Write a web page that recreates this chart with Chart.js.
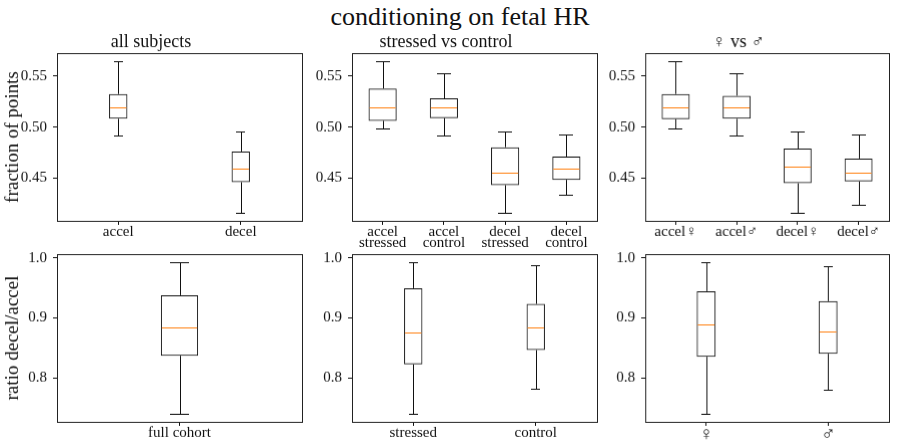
<!DOCTYPE html>
<html><head><meta charset="utf-8">
<script src="https://cdn.jsdelivr.net/npm/chart.js@4/dist/chart.umd.min.js"></script>
<style>
html,body{margin:0;padding:0;background:#fff;width:897px;height:447px;overflow:hidden;position:relative}
canvas{position:absolute}
#sup{position:absolute;left:460px;top:3px;transform:translateX(-50%);font-family:"Liberation Serif","DejaVu Serif",serif;font-size:26px;line-height:28px;color:#111;white-space:nowrap}
</style></head><body>
<div id="sup">conditioning on fetal HR</div>
<canvas id="c1"></canvas><canvas id="c2"></canvas><canvas id="c3"></canvas>
<canvas id="c4"></canvas><canvas id="c5"></canvas><canvas id="c6"></canvas>
<script>
// ---------- data ----------
const subjCats = ['accel', 'decel'];
const subjLo  = [0.4921, 0.4154];
const subjQ1  = [0.5082, 0.4459];
const subjMed = [0.5193, 0.4593];
const subjQ3  = [0.5325, 0.4761];
const subjHi  = [0.5652, 0.4954];

const stressCats = [['accel', 'stressed'], ['accel', 'control'], ['decel', 'stressed'], ['decel', 'control']];
const stressLo  = [0.4984, 0.4921, 0.4154, 0.4331];
const stressQ1  = [0.5062, 0.5089, 0.4430, 0.4482];
const stressMed = [0.5197, 0.5193, 0.4554, 0.4597];
const stressQ3  = [0.5380, 0.5282, 0.4803, 0.4711];
const stressHi  = [0.5652, 0.5528, 0.4954, 0.4925];

const sexCats = ['accel♀', 'accel♂', 'decel♀', 'decel♂'];
const sexLo  = [0.4987, 0.4921, 0.4154, 0.4233];
const sexQ1  = [0.5079, 0.5082, 0.4449, 0.4466];
const sexMed = [0.5197, 0.5197, 0.4607, 0.4554];
const sexQ3  = [0.5325, 0.5308, 0.4790, 0.4692];
const sexHi  = [0.5652, 0.5528, 0.4954, 0.4925];

const ratioCats = ['full cohort'];
const ratioLo  = [0.7396];
const ratioQ1  = [0.8370];
const ratioMed = [0.8838];
const ratioQ3  = [0.9379];
const ratioHi  = [0.9936];

const ratioStressCats = ['stressed', 'control'];
const ratioStressLo  = [0.7396, 0.7825];
const ratioStressQ1  = [0.8226, 0.8465];
const ratioStressMed = [0.8766, 0.8844];
const ratioStressQ3  = [0.9496, 0.9234];
const ratioStressHi  = [0.9936, 0.9880];

const ratioSexCats = ['♀', '♂'];
const ratioSexLo  = [0.7396, 0.7802];
const ratioSexQ1  = [0.8354, 0.8404];
const ratioSexMed = [0.8894, 0.8772];
const ratioSexQ3  = [0.9446, 0.9279];
const ratioSexHi  = [0.9936, 0.9869];

const fracTicks  = [0.45, 0.50, 0.55];
const ratioTicks = [0.8, 0.9, 1.0];

const panelTitles = ['all subjects', 'stressed vs control', '♀ vs ♂'];
const yTitles = ['fraction of points', 'ratio decel/accel'];

// ---------- helpers ----------
const FONT = '"Liberation Serif", "DejaVu Serif", serif';
const INK = '#111';
const MED = '#ff7f0e';

function range(los, his) {
  const lo = Math.min(...los), hi = Math.max(...his);
  const m = (hi - lo) * 0.05;
  return [lo - m, hi + m];
}
const fracRange = range([...subjLo, ...stressLo, ...sexLo], [...subjHi, ...stressHi, ...sexHi]);
const ratioRange = range([...ratioLo, ...ratioStressLo, ...ratioSexLo], [...ratioHi, ...ratioStressHi, ...ratioSexHi]);

const snap = v => Math.round(v) + 0.5;

const boxPlugin = {
  id: 'boxes',
  afterDatasetsDraw(chart) {
    const o = chart.options.plugins.boxes;
    const { ctx, chartArea: a } = chart;
    const x = chart.scales.x, y = chart.scales.y;
    const unit = (x.right - x.left) / o.lo.length;
    const half = unit * o.w / 2;
    const cap = half / 2;
    ctx.save();
    ctx.lineWidth = 1;
    o.lo.forEach((lo, i) => {
      const cxr = x.getPixelForValue(i);
      const cx = snap(cxr);
      const pLo = snap(y.getPixelForValue(lo)), pHi = snap(y.getPixelForValue(o.hi[i]));
      const pQ1 = y.getPixelForValue(o.q1[i]), pQ3 = y.getPixelForValue(o.q3[i]);
      const pMed = snap(y.getPixelForValue(o.med[i]));
      ctx.strokeStyle = INK;
      ctx.beginPath();
      ctx.moveTo(cx, pQ3); ctx.lineTo(cx, pHi);
      ctx.moveTo(cx, pQ1); ctx.lineTo(cx, pLo);
      ctx.moveTo(Math.round(cxr - cap), pHi); ctx.lineTo(Math.round(cxr + cap), pHi);
      ctx.moveTo(Math.round(cxr - cap), pLo); ctx.lineTo(Math.round(cxr + cap), pLo);
      ctx.stroke();
      ctx.strokeStyle = MED;
      ctx.beginPath();
      ctx.moveTo(cxr - half + 1, pMed); ctx.lineTo(cxr + half - 1, pMed);
      ctx.stroke();
    });
    ctx.strokeStyle = '#222';
    const l = snap(a.left), t = snap(a.top), r = snap(a.right), b = snap(a.bottom);
    ctx.strokeRect(l, t, r - l, b - t);
    ctx.restore();
  }
};

const YW = 57, XH = 34, TOPH = 22, RP = 4;

function makePanel(id, L, T, R, B, cats, lo, q1, med, q3, hi, ticks, yr, dec, cfg) {
  const cv = document.getElementById(id);
  const w = (R - L) + YW + RP, h = (B - T) + TOPH + XH;
  cv.width = w; cv.height = h;
  cv.style.width = w + 'px'; cv.style.height = h + 'px';
  cv.style.left = (L - YW) + 'px'; cv.style.top = (T - TOPH) + 'px';
  const axisGrid = { display: true, drawOnChartArea: false, drawTicks: true, tickLength: 4, tickColor: INK, tickWidth: 1, offset: false };
  new Chart(cv, {
    type: 'bar',
    data: {
      labels: cats,
      datasets: [{
        data: q1.map((v, i) => [v, q3[i]]),
        backgroundColor: 'rgba(0,0,0,0)',
        borderColor: INK,
        borderWidth: 1,
        borderSkipped: false,
        barPercentage: cfg.boxW,
        categoryPercentage: 1
      }]
    },
    options: {
      responsive: false,
      animation: false,
      devicePixelRatio: 1,
      layout: { padding: { top: cfg.title ? 0 : TOPH, right: RP, left: 0, bottom: 0 } },
      plugins: {
        legend: { display: false },
        tooltip: { enabled: false },
        title: {
          display: !!cfg.title, text: cfg.title || '', color: INK,
          font: { family: FONT, size: 18, weight: 'normal', lineHeight: 1 },
          padding: { top: 2, bottom: 2 }
        },
        boxes: { lo, med, hi, q1, q3, w: cfg.boxW }
      },
      scales: {
        x: {
          type: 'category', offset: true,
          grid: axisGrid,
          border: { display: false },
          ticks: {
            color: INK, autoSkip: false, maxRotation: 0, minRotation: 0,
            padding: cfg.labelPad || 0,
            font: { family: FONT, size: cfg.labelSize || 15, lineHeight: cfg.labelLH || 1 }
          },
          afterFit(s) { s.height = XH; }
        },
        y: {
          type: 'linear', min: yr[0], max: yr[1],
          grid: axisGrid,
          border: { display: false },
          afterBuildTicks(s) { s.ticks = ticks.map(v => ({ value: v })); },
          ticks: {
            color: INK, padding: 6,
            font: { family: FONT, size: 15 },
            callback: v => Number(v).toFixed(dec)
          },
          title: {
            display: !!cfg.ytitle, text: cfg.ytitle || '', color: INK,
            font: { family: FONT, size: 19, lineHeight: 1.2 },
            padding: { top: 2, bottom: 0 }
          },
          afterFit(s) { s.width = YW; }
        }
      }
    },
    plugins: [boxPlugin]
  });
}

const cols = [[57.3, 302.3], [351.7, 596.7], [645.3, 888.7]];
const rows = [[53.3, 221], [254.3, 421.7]];

makePanel('c1', cols[0][0], rows[0][0], cols[0][1], rows[0][1], subjCats, subjLo, subjQ1, subjMed, subjQ3, subjHi, fracTicks, fracRange, 2,
  { title: panelTitles[0], ytitle: yTitles[0], boxW: 0.15 });
makePanel('c2', cols[1][0], rows[0][0], cols[1][1], rows[0][1], stressCats, stressLo, stressQ1, stressMed, stressQ3, stressHi, fracTicks, fracRange, 2,
  { title: panelTitles[1], boxW: 0.46, labelLH: 0.73, labelPad: 2 });
makePanel('c3', cols[2][0], rows[0][0], cols[2][1], rows[0][1], sexCats, sexLo, sexQ1, sexMed, sexQ3, sexHi, fracTicks, fracRange, 2,
  { title: panelTitles[2], boxW: 0.46 });
makePanel('c4', cols[0][0], rows[1][0], cols[0][1], rows[1][1], ratioCats, ratioLo, ratioQ1, ratioMed, ratioQ3, ratioHi, ratioTicks, ratioRange, 1,
  { ytitle: yTitles[1], boxW: 0.152 });
makePanel('c5', cols[1][0], rows[1][0], cols[1][1], rows[1][1], ratioStressCats, ratioStressLo, ratioStressQ1, ratioStressMed, ratioStressQ3, ratioStressHi, ratioTicks, ratioRange, 1,
  { boxW: 0.15 });
makePanel('c6', cols[2][0], rows[1][0], cols[2][1], rows[1][1], ratioSexCats, ratioSexLo, ratioSexQ1, ratioSexMed, ratioSexQ3, ratioSexHi, ratioTicks, ratioRange, 1,
  { boxW: 0.155, labelSize: 19 });
</script>
</body></html>
